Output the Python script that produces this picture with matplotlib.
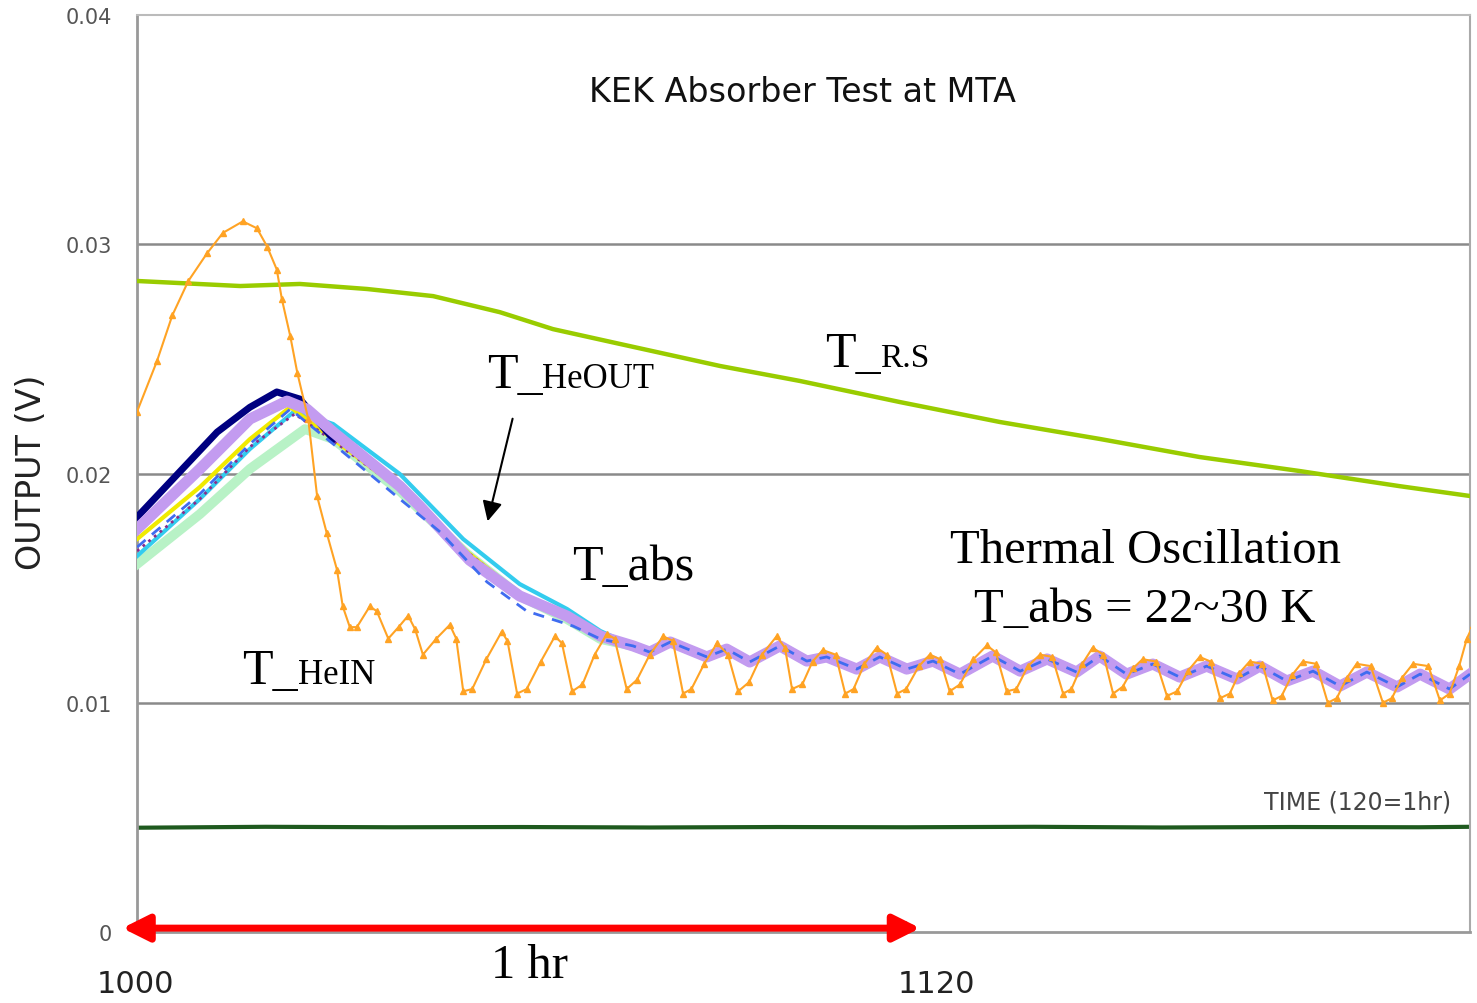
from matplotlib import pyplot as plt
import matplotlib

matplotlib.rcParams['pdf.fonttype'] = 42

# T_HeIN (orange)
hein_x = [1000.0, 1003.1, 1005.5, 1008.0, 1010.9, 1013.4, 1016.5, 1018.7, 1020.3, 1021.8, 1022.6, 1023.9,
          1025.0, 1026.7, 1028.1, 1029.6, 1031.2, 1032.1, 1033.2, 1034.3, 1036.3, 1037.4, 1039.2, 1040.8,
          1042.3, 1043.4, 1044.6, 1046.7, 1048.8, 1049.8, 1050.9, 1052.3, 1054.5, 1056.9, 1057.8, 1059.3,
          1060.8, 1063.0, 1065.2, 1066.3, 1067.9, 1069.5, 1071.4, 1073.3, 1074.5, 1076.4, 1078.0, 1080.0,
          1082.1, 1083.6, 1085.2, 1086.5, 1088.5, 1090.5, 1092.2, 1093.8, 1095.5, 1097.5, 1099.8, 1101.1,
          1102.2, 1103.8, 1105.4, 1107.0, 1109.0, 1110.5, 1111.8, 1113.5, 1115.4, 1117.0, 1118.6, 1120.0,
          1122.0, 1123.7, 1125.3, 1126.8, 1128.4, 1130.5, 1132.6, 1134.0, 1135.7, 1137.2, 1139.0, 1140.9,
          1142.8, 1144.5, 1145.8, 1147.5, 1149.1, 1150.8, 1152.3, 1153.8, 1155.4, 1156.9, 1159.0, 1160.7,
          1162.3, 1164.0, 1165.8, 1167.5, 1169.0, 1170.5, 1172.0, 1173.6, 1175.6, 1177.2, 1178.6, 1180.2,
          1181.9, 1184.0, 1185.8, 1187.2, 1188.8, 1190.3, 1192.5, 1194.4, 1195.8, 1197.4, 1199.1, 1201.5,
          1203.3, 1204.8, 1206.3, 1207.5, 1208.5]
hein_y = [0.0227, 0.0249, 0.0269, 0.0284, 0.0296, 0.0305, 0.0310, 0.0307, 0.0299, 0.0289, 0.0276, 0.0260,
          0.0244, 0.0224, 0.0190, 0.0174, 0.0158, 0.0142, 0.0133, 0.0133, 0.0142, 0.0140, 0.0128, 0.0133,
          0.0138, 0.0132, 0.0121, 0.0128, 0.0134, 0.0128, 0.0105, 0.0106, 0.0119, 0.0131, 0.0127, 0.0104,
          0.0106, 0.0118, 0.0129, 0.0126, 0.0105, 0.0108, 0.0121, 0.0130, 0.0128, 0.0106, 0.0110, 0.0121,
          0.0129, 0.0127, 0.0104, 0.0106, 0.0117, 0.0126, 0.0121, 0.0105, 0.0109, 0.0121, 0.0129, 0.0124,
          0.0106, 0.0108, 0.0118, 0.0123, 0.0121, 0.0104, 0.0106, 0.0117, 0.0124, 0.0121, 0.0104, 0.0106,
          0.0116, 0.0121, 0.0119, 0.0105, 0.0108, 0.0119, 0.0125, 0.0122, 0.0105, 0.0106, 0.0116, 0.0121,
          0.0120, 0.0104, 0.0106, 0.0117, 0.0124, 0.0121, 0.0104, 0.0107, 0.0115, 0.0119, 0.0118, 0.0103,
          0.0105, 0.0114, 0.0120, 0.0118, 0.0102, 0.0104, 0.0113, 0.0118, 0.0117, 0.0101, 0.0103, 0.0112,
          0.0118, 0.0117, 0.0100, 0.0102, 0.0111, 0.0117, 0.0116, 0.0100, 0.0102, 0.0111, 0.0117, 0.0116,
          0.0101, 0.0104, 0.0116, 0.0128, 0.0134]

# T_R.S (yellow green)
rs_x = [1000.0, 1016.1, 1025.4, 1035.9, 1046.2, 1056.6, 1064.9, 1075.4, 1091.0, 1103.4, 1119.0, 1134.6,
        1150.2, 1165.8, 1181.4, 1197.0, 1208.0]
rs_y = [0.02840, 0.02818, 0.02827, 0.02805, 0.02774, 0.02704, 0.02630, 0.02565, 0.02469, 0.02404, 0.02312,
        0.02225, 0.02151, 0.02072, 0.02011, 0.01945, 0.01902]

# reference channel (dark green, flat)
ref_x = [1000, 1020, 1040, 1060, 1080, 1100, 1120, 1140, 1160, 1180, 1200, 1208]
ref_y = [0.00455, 0.00459, 0.00457, 0.00458, 0.00456, 0.00458, 0.00457, 0.00459, 0.00456, 0.00458, 0.00457, 0.00459]

# T_abs bundle: each channel has its own rise, then the common oscillation tail
navy_x = [1000.0, 1012.5, 1017.6, 1021.8, 1025.4, 1030.6]
navy_y = [0.01810, 0.02181, 0.02289, 0.02356, 0.02325, 0.02150]
lav_x = [1000.0, 1009.8, 1017.6, 1023.4, 1026.5, 1030.6, 1041.0, 1044.1, 1051.9, 1059.7, 1067.1, 1072.3]
lav_y = [0.01758, 0.02020, 0.02238, 0.02316, 0.02281, 0.02181, 0.01945, 0.01858, 0.01622, 0.01466,
         0.01378, 0.01291]
blue_x = [1000.0, 1009.8, 1017.6, 1023.9, 1030.6, 1041.0, 1047.3, 1054.6, 1060.8, 1068.0, 1072.3]
blue_y = [0.01679, 0.01911, 0.02129, 0.02281, 0.02129, 0.01889, 0.01745, 0.01527, 0.01400, 0.01335, 0.01278]
cyan_x = [1000.0, 1009.8, 1017.6, 1024.6, 1030.6, 1041.0, 1050.9, 1059.7, 1067.1, 1072.3]
cyan_y = [0.01640, 0.01889, 0.02107, 0.02273, 0.02216, 0.01998, 0.01714, 0.01518, 0.01409, 0.01313]
yel_x = [1000.0, 1009.8, 1017.6, 1023.9, 1030.6, 1041.0, 1051.5, 1059.7, 1067.1, 1072.3]
yel_y = [0.01714, 0.01941, 0.02150, 0.02290, 0.02150, 0.01932, 0.01658, 0.01474, 0.01374, 0.01291]
pur_x = [1000.0, 1009.8, 1017.6, 1024.6, 1030.6, 1041.0, 1051.5, 1059.7, 1067.1, 1072.3]
pur_y = [0.01662, 0.01889, 0.02116, 0.02260, 0.02142, 0.01932, 0.01658, 0.01474, 0.01374, 0.01291]
lgr_x = [1000.0, 1009.8, 1017.6, 1026.2, 1030.6, 1041.0, 1051.5, 1059.7, 1067.1, 1072.3]
lgr_y = [0.01605, 0.01823, 0.02020, 0.02194, 0.02150, 0.01924, 0.01649, 0.01466, 0.01365, 0.01278]
tail_x = [1077.4, 1080.0, 1083.2, 1088.9, 1092.0, 1095.6, 1100.3, 1104.5, 1107.6, 1112.3, 1115.9, 1120.1,
          1124.2, 1128.4, 1133.5, 1137.8, 1142.0, 1146.6, 1150.2, 1154.4, 1158.5, 1162.7, 1166.9, 1171.6,
          1175.2, 1179.4, 1183.5, 1187.7, 1191.9, 1196.6, 1200.2, 1204.8, 1208.0]
tail_y = [0.01248, 0.01221, 0.01265, 0.01200, 0.01234, 0.01178, 0.01248, 0.01182, 0.01200, 0.01147, 0.01200,
          0.01147, 0.01182, 0.01125, 0.01204, 0.01138, 0.01191, 0.01134, 0.01204, 0.01125, 0.01169, 0.01112,
          0.01160, 0.01104, 0.01160, 0.01095, 0.01138, 0.01073, 0.01134, 0.01069, 0.01125, 0.01060, 0.01125]

y_ticks = [0, 0.01, 0.02, 0.03, 0.04]
y_names = ["0", "0.01", "0.02", "0.03", "0.04"]

fig = plt.figure(figsize=(14.77, 10.04), dpi=100)
ax = fig.add_axes([0.0928, 0.0707, 0.9025, 0.9133])
ax.set_xlim(1000, 1208)
ax.set_ylim(0, 0.04)

for g in [0.01, 0.02, 0.03]:
    ax.axhline(g, color="#8a8a8a", linewidth=1.8, zorder=1)

ax.plot(ref_x, ref_y, color="#1f5a1f", linewidth=3, zorder=2)
ax.plot(rs_x, rs_y, color="#99cc00", linewidth=3.2, zorder=3)

ax.plot(lgr_x + tail_x, lgr_y + tail_y, color="#b8f2c6", linewidth=7, zorder=3)
ax.plot(cyan_x + tail_x, cyan_y + tail_y, color="#33ccee", linewidth=3, zorder=3)
ax.plot(yel_x + tail_x, yel_y + tail_y, color="#f0ea00", linewidth=3, zorder=3)
ax.plot(pur_x + tail_x, pur_y + tail_y, color="#8b2d8b", linewidth=2, linestyle=":", zorder=3)
ax.plot(navy_x, navy_y, color="#000080", linewidth=5, zorder=3)
ax.plot(lav_x + tail_x, lav_y + tail_y, color="#c39bf0", linewidth=8, zorder=4)
ax.plot(blue_x + tail_x, blue_y + tail_y, color="#3f6cf0", linewidth=2, dashes=(4, 3), zorder=5)

ax.plot(hein_x, hein_y, color="#ffa324", linewidth=1.5, marker="^", markersize=5, zorder=6)

ax.set_xticks([1120])
ax.set_xticklabels([""])
ax.tick_params(axis="x", direction="in", length=8, color="#444444")
ax.set_yticks(y_ticks)
ax.set_yticklabels(y_names, fontsize=15, color="#555555")
ax.tick_params(axis="y", length=0, pad=18)

ax.spines["left"].set_color("#999999")
ax.spines["left"].set_linewidth(2)
ax.spines["bottom"].set_color("#999999")
ax.spines["bottom"].set_linewidth(2)
ax.spines["top"].set_color("#bbbbbb")
ax.spines["top"].set_linewidth(1.5)
ax.spines["right"].set_color("#aaaaaa")
ax.spines["right"].set_linewidth(1.5)

serif = "Liberation Serif"
ax.text(1103.9, 0.03668, "KEK Absorber Test at MTA", fontsize=24, ha="center", va="center", color="#111111")
ax.text(1205, 0.00571, "TIME (120=1hr)", fontsize=17, ha="right", va="center", color="#444444")

ax.text(1054.6, 0.02377, "T_", fontsize=36, family=serif)
ax.text(1063.2, 0.02377, "HeOUT", fontsize=25, family=serif)
ax.text(1107.3, 0.02469, "T_", fontsize=36, family=serif)
ax.text(1115.9, 0.02469, "R.S", fontsize=24, family=serif)
ax.text(1067.9, 0.0154, "T_abs", fontsize=36, family=serif)
ax.text(1016.4, 0.01086, "T_", fontsize=36, family=serif)
ax.text(1025.1, 0.01086, "HeIN", fontsize=25, family=serif)
ax.text(1157.3, 0.01614, "Thermal Oscillation", fontsize=35, family=serif, ha="center")
ax.text(1157.3, 0.01357, "T_abs = 22~30 K", fontsize=35, family=serif, ha="center")

ax.annotate("", xy=(1054.6, 0.0178), xytext=(1058.7, 0.02251),
            arrowprops=dict(arrowstyle="-|>", color="black", lw=1.5, mutation_scale=30))
ax.annotate("", xy=(997.7, 0.00017), xytext=(1122.2, 0.00017), annotation_clip=False,
            arrowprops=dict(arrowstyle="<|-|>", color="red", lw=5, mutation_scale=40, shrinkA=0, shrinkB=0))
ax.text(1061.3, -0.00196, "1 hr", fontsize=35, family=serif, ha="center", clip_on=False)

fig.text(0.092, 0.019, "1000", fontsize=22, ha="center", va="center", color="#222222")
fig.text(0.634, 0.019, "1120", fontsize=22, ha="center", va="center", color="#222222")
fig.text(0.021, 0.530, "OUTPUT (V)", fontsize=24, rotation=90, ha="center", va="center", color="#222222")

plt.savefig("out.png", dpi=100)
